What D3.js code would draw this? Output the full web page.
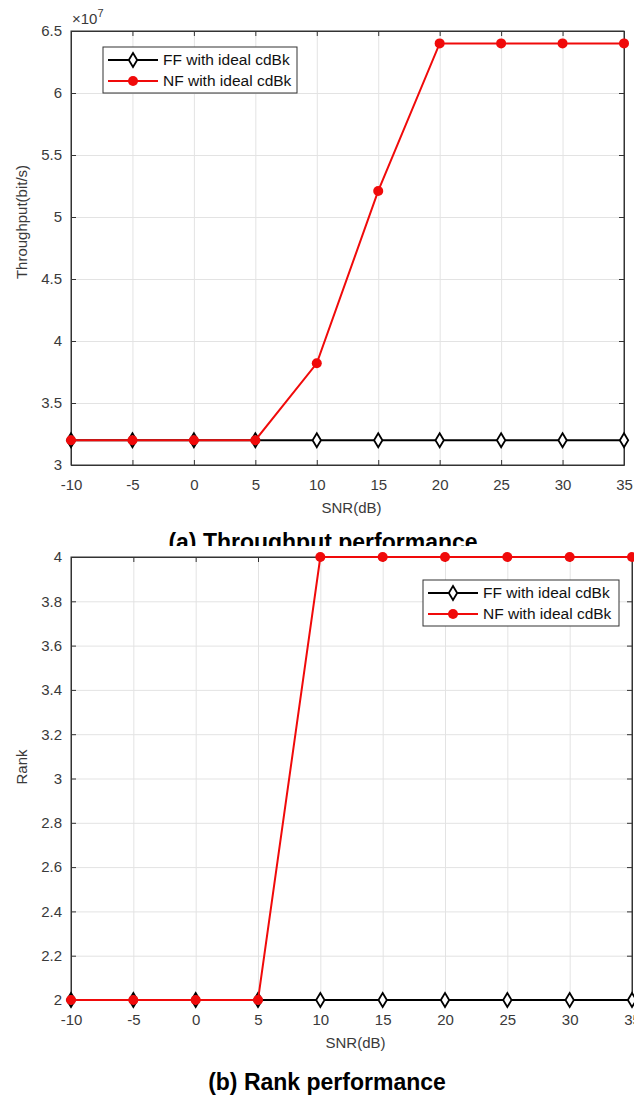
<!DOCTYPE html>
<html lang="en">
<head>
<meta charset="UTF-8">
<title>Throughput and rank vs SNR</title>
<style>
  body { margin: 0; background: #fff; }
  svg text { font-family: "Liberation Sans", Arial, sans-serif; }
</style>
</head>
<body>
<svg width="634" height="1100"></svg>
<script src="https://d3js.org/d3.v7.min.js"></script>
<script>

// ---- data ----
var snr = [-10, -5, 0, 5, 10, 15, 20, 25, 30, 35];
// throughput, in units of 1e7 bit/s
var thrFF = [3.2, 3.2, 3.2, 3.2, 3.2, 3.2, 3.2, 3.2, 3.2, 3.2];
var thrNF = [3.2, 3.2, 3.2, 3.2, 3.82, 5.21, 6.4, 6.4, 6.4, 6.4];
var rankFF = [2, 2, 2, 2, 2, 2, 2, 2, 2, 2];
var rankNF = [2, 2, 2, 2, 4, 4, 4, 4, 4, 4];

var xTicks = [-10, -5, 0, 5, 10, 15, 20, 25, 30, 35];
var thrTicks = [3, 3.5, 4, 4.5, 5, 5.5, 6, 6.5];
var rankTicks = [2, 2.2, 2.4, 2.6, 2.8, 3, 3.2, 3.4, 3.6, 3.8, 4];
var seriesNames = ["FF with ideal cdBk", "NF with ideal cdBk"];

var svg = d3.select("svg");
var axisCol = "#333", gridCol = "#e3e3e3", red = "#f00a0a";
var plain = function(d) { return String(d); };   // keep ascii hyphen like the original

function diamond(sel) {
    sel.attr("d", "M0,-7L4.2,0L0,7L-4.2,0Z")
        .attr("fill", "#fff").attr("stroke", "#000").attr("stroke-width", 1.8);
}

function drawPanel(cfg) {
    var x = d3.scaleLinear().domain([-10, 35]).range(cfg.xr);
    var y = d3.scaleLinear().domain(cfg.yd).range(cfg.yr);
    var g = svg.append("g");
    var w = cfg.xr[1] - cfg.xr[0], h = cfg.yr[0] - cfg.yr[1];

    // grid
    g.append("g").attr("transform", "translate(0," + cfg.yr[0] + ")")
        .call(d3.axisBottom(x).tickValues(xTicks).tickSize(-h).tickFormat(""))
        .call(function(a) { a.select(".domain").remove(); a.selectAll("line").attr("stroke", gridCol); });
    g.append("g").attr("transform", "translate(" + cfg.xr[0] + ",0)")
        .call(d3.axisLeft(y).tickValues(cfg.yTicks).tickSize(-w).tickFormat(""))
        .call(function(a) { a.select(".domain").remove(); a.selectAll("line").attr("stroke", gridCol); });

    // box
    g.append("rect").attr("x", cfg.xr[0]).attr("y", cfg.yr[1]).attr("width", w).attr("height", h)
        .attr("fill", "none").attr("stroke", axisCol).attr("stroke-width", 1);

    // axes with inward ticks
    var ax = g.append("g");
    ax.append("g").attr("transform", "translate(0," + cfg.yr[0] + ")")
        .call(d3.axisBottom(x).tickValues(xTicks).tickSizeInner(-5).tickSizeOuter(0).tickPadding(14)
            .tickFormat(plain));
    ax.append("g").attr("transform", "translate(" + cfg.xr[0] + ",0)")
        .call(d3.axisLeft(y).tickValues(cfg.yTicks).tickSizeInner(-5).tickSizeOuter(0).tickPadding(9)
            .tickFormat(plain));
    ax.append("g").attr("transform", "translate(0," + cfg.yr[1] + ")")
        .call(d3.axisTop(x).tickValues(xTicks).tickSizeInner(-5).tickSizeOuter(0).tickFormat(""));
    ax.append("g").attr("transform", "translate(" + cfg.xr[1] + ",0)")
        .call(d3.axisRight(y).tickValues(cfg.yTicks).tickSizeInner(-5).tickSizeOuter(0).tickFormat(""));
    ax.selectAll(".domain").attr("stroke", axisCol);
    ax.selectAll(".tick line").attr("stroke", axisCol);
    ax.selectAll(".tick text").attr("font-size", 15).attr("fill", "#3a3a3a")
        .attr("font-family", "Liberation Sans, Arial, sans-serif");

    // axis titles
    g.append("text").attr("x", (cfg.xr[0] + cfg.xr[1]) / 2 + 4).attr("y", cfg.xLabelY)
        .attr("text-anchor", "middle").attr("font-size", 15).attr("fill", "#3a3a3a").text("SNR(dB)");
    g.append("text").attr("transform", "translate(22," + cfg.yLabelMid + ") rotate(-90)")
        .attr("text-anchor", "middle").attr("dy", "0.35em").attr("font-size", 15).attr("fill", "#3a3a3a")
        .text(cfg.yLabel);

    // series
    var line = d3.line().x(function(d, i) { return x(snr[i]); }).y(function(d) { return y(d); });
    g.append("path").datum(cfg.ff).attr("d", line).attr("fill", "none")
        .attr("stroke", "#000").attr("stroke-width", 2);
    g.selectAll(".ff").data(cfg.ff).enter().append("path").attr("class", "ff")
        .attr("transform", function(d, i) { return "translate(" + x(snr[i]) + "," + y(d) + ")"; })
        .call(diamond);
    g.append("path").datum(cfg.nf).attr("d", line).attr("fill", "none")
        .attr("stroke", red).attr("stroke-width", 2);
    g.selectAll(".nf").data(cfg.nf).enter().append("circle").attr("class", "nf")
        .attr("cx", function(d, i) { return x(snr[i]); }).attr("cy", function(d) { return y(d); })
        .attr("r", 5).attr("fill", red);

    // legend
    var L = cfg.legend;
    var lg = g.append("g").attr("transform", "translate(" + L.x + "," + L.y + ")");
    lg.append("rect").attr("width", L.w).attr("height", 46).attr("fill", "#fff")
        .attr("stroke", axisCol).attr("stroke-width", 1);
    [0, 1].forEach(function(k) {
        var ry = 13 + k * 21;
        lg.append("line").attr("x1", 5).attr("x2", 55).attr("y1", ry).attr("y2", ry)
            .attr("stroke", k ? red : "#000").attr("stroke-width", 2);
        if (k) lg.append("circle").attr("cx", 30).attr("cy", ry).attr("r", 5).attr("fill", red);
        else lg.append("path").attr("transform", "translate(30," + ry + ")").call(diamond);
        lg.append("text").attr("x", 60).attr("y", ry).attr("dy", "0.35em")
            .attr("font-size", 15.5).attr("fill", "#111").text(seriesNames[k]);
    });
    return g;
}

// top panel: throughput
var topPanel = drawPanel({
    xr: [71, 624], yd: [3, 6.5], yr: [465, 31], yTicks: thrTicks,
    ff: thrFF, nf: thrNF, yLabel: "Throughput(bit/s)", yLabelMid: 222, xLabelY: 513,
    legend: { x: 103, y: 47, w: 194 }
});
topPanel.append("text").attr("x", 72).attr("y", 24).attr("font-size", 15).attr("fill", "#3a3a3a")
    .html("\u00d710<tspan dy='-7' font-size='11'>7</tspan>");

// caption (a), partly hidden by the lower panel
svg.append("text").attr("x", 323).attr("y", 550).attr("text-anchor", "middle")
    .attr("font-size", 23).attr("font-weight", "bold").attr("fill", "#000")
    .text("(a) Throughput performance");
svg.append("rect").attr("x", 0).attr("y", 546).attr("width", 634).attr("height", 554).attr("fill", "#fff");

// bottom panel: rank
drawPanel({
    xr: [71, 632], yd: [2, 4], yr: [1000, 557], yTicks: rankTicks,
    ff: rankFF, nf: rankNF, yLabel: "Rank", yLabelMid: 767, xLabelY: 1048,
    legend: { x: 423, y: 580, w: 196 }
});

svg.append("text").attr("x", 327).attr("y", 1090).attr("text-anchor", "middle")
    .attr("font-size", 23).attr("font-weight", "bold").attr("fill", "#000")
    .text("(b) Rank performance");

</script>
</body>
</html>
